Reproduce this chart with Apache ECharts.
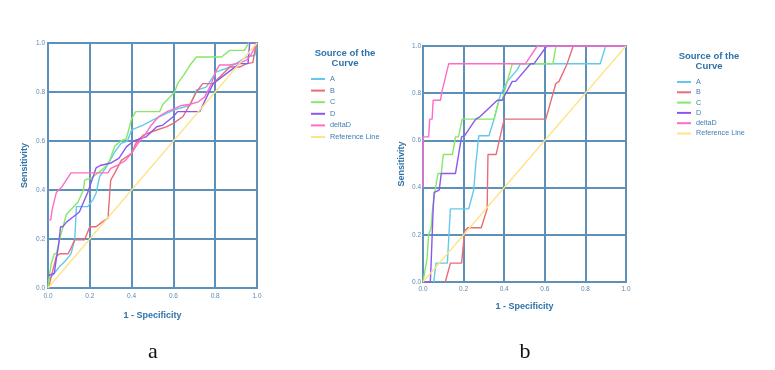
<!DOCTYPE html>
<html>
<head>
<meta charset="utf-8">
<script src="https://cdn.jsdelivr.net/npm/echarts@6/dist/echarts.min.js"></script>
<style>
  html, body { margin: 0; padding: 0; background: #fff; }
  #chart { width: 775px; height: 370px; }
</style>
</head>
<body>
<div id="chart"></div>
<script>
// legend names / colours
const curveNames = ['A', 'B', 'C', 'D', 'deltaD', 'Reference Line']
const curveColors = ['#62c9ec', '#e86c78', '#86e866', '#8a58f0', '#ff6cc8', '#ffe38a']
const tickValues = [0, 0.2, 0.4, 0.6, 0.8, 1.0]

// panel a: [1 - specificity, sensitivity]
const aA = [[0,0.03],[0.024,0.054],[0.056,0.088],[0.088,0.115],[0.11,0.14],[0.128,0.197],[0.136,0.332],[0.19,0.332],[0.215,0.36],[0.23,0.387],[0.247,0.455],[0.28,0.495],[0.32,0.556],[0.35,0.59],[0.38,0.60],[0.40,0.645],[0.455,0.665],[0.50,0.685],[0.55,0.706],[0.60,0.726],[0.68,0.746],[0.71,0.807],[0.757,0.82],[0.805,0.882],[0.853,0.896],[0.90,0.916],[0.95,0.943],[0.99,0.95],[1,1]]
const aB = [[0,0],[0.008,0.02],[0.04,0.13],[0.056,0.14],[0.096,0.14],[0.11,0.163],[0.128,0.197],[0.175,0.197],[0.2,0.25],[0.23,0.25],[0.26,0.27],[0.287,0.285],[0.30,0.44],[0.32,0.47],[0.35,0.52],[0.40,0.55],[0.42,0.59],[0.455,0.624],[0.52,0.645],[0.566,0.658],[0.60,0.672],[0.646,0.70],[0.686,0.76],[0.71,0.80],[0.74,0.834],[0.79,0.834],[0.83,0.868],[0.87,0.902],[0.917,0.902],[0.95,0.916],[0.98,0.92],[0.99,0.97],[1,1]]
const aC = [[0,0],[0.008,0.06],[0.016,0.10],[0.03,0.14],[0.04,0.14],[0.056,0.20],[0.072,0.25],[0.088,0.30],[0.11,0.32],[0.143,0.35],[0.17,0.40],[0.175,0.44],[0.21,0.45],[0.255,0.48],[0.28,0.50],[0.295,0.52],[0.32,0.58],[0.35,0.60],[0.375,0.61],[0.40,0.69],[0.42,0.72],[0.534,0.72],[0.55,0.75],[0.606,0.80],[0.62,0.834],[0.65,0.87],[0.68,0.91],[0.71,0.943],[0.83,0.943],[0.87,0.97],[0.94,0.97],[0.96,1.0],[1,1]]
const aD = [[0,0.05],[0.03,0.06],[0.04,0.12],[0.05,0.17],[0.06,0.25],[0.07,0.25],[0.09,0.27],[0.12,0.29],[0.15,0.31],[0.17,0.35],[0.19,0.39],[0.21,0.44],[0.23,0.49],[0.25,0.50],[0.30,0.51],[0.34,0.53],[0.375,0.576],[0.41,0.60],[0.44,0.61],[0.47,0.617],[0.52,0.658],[0.55,0.665],[0.60,0.70],[0.62,0.72],[0.726,0.72],[0.79,0.834],[0.853,0.875],[0.917,0.916],[0.957,0.916],[0.965,1.0],[1,1]]
const aDelta = [[0,0.278],[0.013,0.278],[0.02,0.32],[0.04,0.39],[0.064,0.41],[0.11,0.47],[0.287,0.47],[0.30,0.488],[0.33,0.50],[0.37,0.52],[0.40,0.55],[0.43,0.59],[0.46,0.62],[0.49,0.66],[0.53,0.70],[0.57,0.72],[0.60,0.73],[0.64,0.745],[0.68,0.75],[0.72,0.76],[0.75,0.78],[0.78,0.83],[0.80,0.88],[0.82,0.91],[0.87,0.91],[0.92,0.92],[0.95,0.93],[0.97,0.95],[1,1]]

// panel b
const bA = [[0.053,0],[0.064,0.08],[0.12,0.08],[0.135,0.31],[0.225,0.31],[0.25,0.39],[0.26,0.50],[0.275,0.62],[0.325,0.62],[0.35,0.69],[0.38,0.79],[0.415,0.85],[0.465,0.90],[0.48,0.925],[0.873,0.925],[0.90,1.0],[1,1]]
const bB = [[0.11,0],[0.135,0.08],[0.19,0.08],[0.205,0.215],[0.22,0.23],[0.287,0.23],[0.316,0.31],[0.32,0.54],[0.36,0.54],[0.40,0.69],[0.605,0.69],[0.654,0.84],[0.67,0.85],[0.71,0.925],[0.74,1.0],[1,1]]
const bC = [[0,0],[0.02,0.10],[0.028,0.2],[0.04,0.23],[0.045,0.29],[0.053,0.35],[0.06,0.39],[0.074,0.46],[0.09,0.46],[0.10,0.54],[0.145,0.54],[0.16,0.615],[0.175,0.615],[0.193,0.69],[0.35,0.69],[0.374,0.77],[0.39,0.77],[0.415,0.85],[0.44,0.925],[0.64,0.925],[0.655,1.0],[1,1]]
const bD = [[0,0],[0.036,0],[0.04,0.08],[0.045,0.08],[0.05,0.31],[0.055,0.38],[0.07,0.385],[0.08,0.39],[0.09,0.46],[0.16,0.46],[0.19,0.615],[0.205,0.62],[0.26,0.69],[0.28,0.70],[0.366,0.77],[0.39,0.77],[0.44,0.85],[0.456,0.85],[0.53,0.925],[0.547,0.925],[0.61,1.0],[1,1]]
const bDelta = [[0,0.40],[0,0.615],[0.028,0.615],[0.033,0.69],[0.045,0.69],[0.05,0.77],[0.086,0.77],[0.094,0.81],[0.127,0.925],[0.505,0.925],[0.563,1.0],[1,1]]

const refLine = [[0,0],[1,1]]

const panelA = [aA, aB, aC, aD, aDelta, refLine]
const panelB = [bA, bB, bC, bD, bDelta, refLine]

const gridColor = '#5d91ba'
const labelColor = '#5b8ab3'
const nameColor = '#2f72a8'

function makeX (gridIndex, margin, nameGap) {
  return {
    type: 'value', gridIndex: gridIndex, min: 0, max: 1, interval: 0.2,
    name: '1 - Specificity', nameLocation: 'middle', nameGap: nameGap,
    nameTextStyle: { fontFamily: 'Liberation Sans', fontWeight: 'bold', fontSize: 9, color: nameColor },
    axisLine: { lineStyle: { color: gridColor, width: 2 } },
    axisTick: { show: false },
    axisLabel: { margin: margin, fontFamily: 'Liberation Sans', fontSize: 6.5, color: labelColor, formatter: v => v.toFixed(1) },
    splitLine: { lineStyle: { color: gridColor, width: 2 } }
  }
}

function makeY (gridIndex, margin, nameGap) {
  return {
    type: 'value', gridIndex: gridIndex, min: 0, max: 1, interval: 0.2,
    name: 'Sensitivity', nameLocation: 'middle', nameGap: nameGap,
    nameTextStyle: { fontFamily: 'Liberation Sans', fontWeight: 'bold', fontSize: 9, color: nameColor },
    axisLine: { lineStyle: { color: gridColor, width: 2 } },
    axisTick: { show: false },
    axisLabel: { margin: margin, fontFamily: 'Liberation Sans', fontSize: 6.5, color: labelColor, formatter: v => v.toFixed(1) },
    splitLine: { lineStyle: { color: gridColor, width: 2 } }
  }
}

function makeSeries (data, axisIndex) {
  return data.map((d, i) => ({
    name: curveNames[i],
    type: 'line',
    xAxisIndex: axisIndex,
    yAxisIndex: axisIndex,
    data: d,
    symbol: 'none',
    animation: false,
    lineStyle: { width: 1.4, color: curveColors[i] },
    itemStyle: { color: curveColors[i] }
  }))
}

function makeLegend (left, top, gap, fontSize) {
  return {
    orient: 'vertical', left: left, top: top, padding: 0,
    itemWidth: 14, itemHeight: 2, itemGap: gap, icon: 'rect',
    data: curveNames,
    textStyle: { fontFamily: 'Liberation Sans', fontSize: fontSize, lineHeight: 10, color: '#3f7db0' }
  }
}

function titleText (x, y) {
  return {
    type: 'text', x: x, y: y,
    style: { text: 'Source of the\nCurve', textAlign: 'center', textVerticalAlign: 'middle',
      fontFamily: 'Liberation Sans', fontWeight: 'bold', fontSize: 9.5, lineHeight: 10, fill: nameColor }
  }
}

function panelLabel (text, x, y) {
  return {
    type: 'text', x: x, y: y,
    style: { text: text, textAlign: 'center', textVerticalAlign: 'middle',
      fontFamily: 'Liberation Serif', fontSize: 22, fill: '#111' }
  }
}

const chart = echarts.init(document.getElementById('chart'))
chart.setOption({
  backgroundColor: '#fff',
  animation: false,
  grid: [
    { left: 48, top: 43, width: 209, height: 245, show: true, borderColor: gridColor, borderWidth: 2 },
    { left: 423, top: 46, width: 203, height: 236, show: true, borderColor: gridColor, borderWidth: 2 }
  ],
  xAxis: [makeX(0, 5, 23), makeX(1, 3.5, 20)],
  yAxis: [makeY(0, 3, 19), makeY(1, 2, 17)],
  legend: [makeLegend(311, 74, 1.6, 7.3), makeLegend(677, 77, 0.3, 7.2)],
  graphic: [
    titleText(345, 58),
    titleText(709, 61),
    panelLabel('a', 153, 352),
    panelLabel('b', 525, 352)
  ],
  series: makeSeries(panelA, 0).concat(makeSeries(panelB, 1))
})
</script>
</body>
</html>
